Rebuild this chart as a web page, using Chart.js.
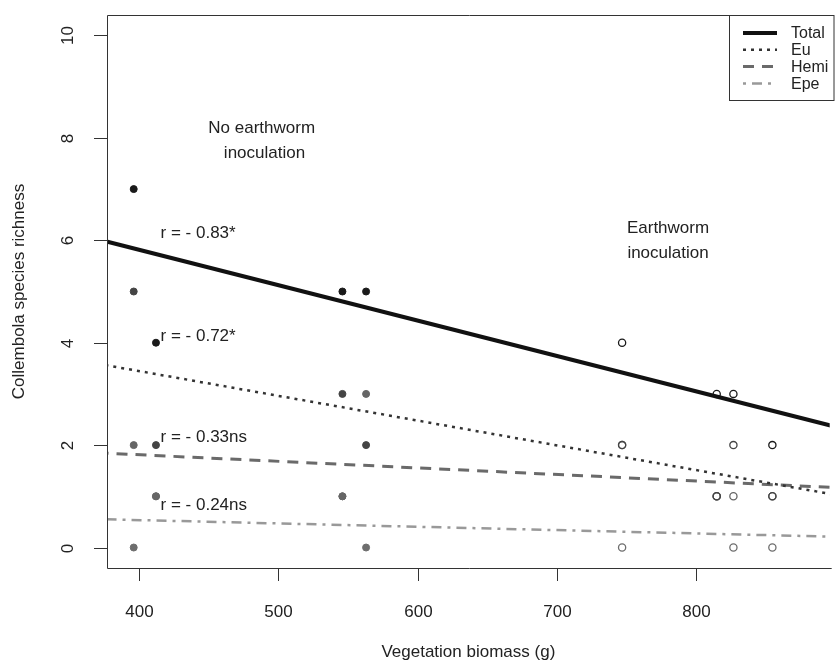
<!DOCTYPE html>
<html>
<head>
<meta charset="utf-8">
<script src="https://cdn.jsdelivr.net/npm/chart.js@4"></script>
<style>
  html, body { margin: 0; padding: 0; background: #fff; overflow: hidden; }
  #wrap { width: 835px; height: 670px; }
</style>
</head>
<body>
<div id="wrap"><canvas id="myChart" width="835" height="670"></canvas></div>
<script>
// biomass of the mesocosms (g)
const biomassNoWorm = [396, 412, 546, 563];
const biomassWorm = [747, 815, 827, 855];

// species richness per group
const totalNoWorm = [7, 4, 5, 5];
const euNoWorm = [5, 2, 3, 2];
const hemiNoWorm = [2, 1, 1, 3];
const epeNoWorm = [0, 1, 1, 0];
const totalWorm = [4, 3, 3, 2];
const euWorm = [2, 1, 2, 1];
const hemiWorm = [2, 1, 1, 1];
const epeWorm = [0, 1, 0, 0];

// fitted lines, read at both ends
const fitX = [370, 900];
const totalFit = [6.02, 2.36];
const euFit = [3.59, 1.03];
const hemiFit = [1.85, 1.17];
const epeFit = [0.555, 0.21];

const xTicks = [400, 500, 600, 700, 800];
const yTicks = [0, 2, 4, 6, 8, 10];
const seriesNames = ["Total", "Eu", "Hemi", "Epe"];

const FONT = "'Liberation Sans', Arial, Helvetica, sans-serif";
const INK = "#222";

const pts = (xs, ys) => xs.map((x, i) => ({ x: x, y: ys[i] }));

const lineStyles = [
  { color: "#111", width: 4, dash: [] },
  { color: "#333", width: 2.5, dash: [3, 5] },
  { color: "#6a6a6a", width: 3, dash: [11, 8] },
  { color: "#999", width: 2.5, dash: [3, 6, 10, 6] },
];
const pointColors = ["#1a1a1a", "#444", "#666", "#6e6e6e"];

const fits = [totalFit, euFit, hemiFit, epeFit];
const noWorm = [totalNoWorm, euNoWorm, hemiNoWorm, epeNoWorm];
const worm = [totalWorm, euWorm, hemiWorm, epeWorm];

const datasets = [];
fits.forEach((f, i) => {
  datasets.push({
    type: "line",
    label: seriesNames[i],
    data: pts(fitX, f),
    borderColor: lineStyles[i].color,
    borderWidth: lineStyles[i].width,
    borderDash: lineStyles[i].dash,
    pointRadius: 0,
    fill: false,
    clip: 0,
  });
});
noWorm.forEach((ys, i) => {
  datasets.push({
    type: "scatter",
    label: seriesNames[i] + " no worm",
    data: pts(biomassNoWorm, ys),
    backgroundColor: pointColors[i],
    borderColor: pointColors[i],
    pointRadius: 3.5,
    borderWidth: 1,
  });
});
worm.forEach((ys, i) => {
  datasets.push({
    type: "scatter",
    label: seriesNames[i] + " worm",
    data: pts(biomassWorm, ys),
    backgroundColor: "rgba(0,0,0,0)",
    borderColor: pointColors[i],
    pointRadius: 3.6,
    borderWidth: 1.3,
  });
});

const notes = [
  { text: "No earthworm", x: 488, y: 8.19, align: "center" },
  { text: "inoculation", x: 490, y: 7.69, align: "center" },
  { text: "Earthworm", x: 780, y: 6.24, align: "center" },
  { text: "inoculation", x: 780, y: 5.75, align: "center" },
  { text: "r = - 0.83*", x: 415.3, y: 6.14, align: "left" },
  { text: "r = - 0.72*", x: 415.3, y: 4.12, align: "left" },
  { text: "r = - 0.33ns", x: 415.3, y: 2.16, align: "left" },
  { text: "r = - 0.24ns", x: 415.3, y: 0.83, align: "left" },
];

const frame = {
  id: "frame",
  afterDraw(chart) {
    const c = chart.ctx;
    const a = chart.chartArea;
    const xs = chart.scales.x;
    const ys = chart.scales.y;
    c.save();
    c.strokeStyle = "#333";
    c.lineWidth = 1;
    c.setLineDash([]);
    // box (right side is off the page)
    c.beginPath();
    c.moveTo(a.right + 2, a.top + 0.5);
    c.lineTo(a.left + 0.5, a.top + 0.5);
    c.lineTo(a.left + 0.5, a.bottom + 0.5);
    c.lineTo(a.right + 2, a.bottom + 0.5);
    c.stroke();

    // ticks
    c.fillStyle = INK;
    c.font = "17px " + FONT;
    c.textAlign = "center";
    c.textBaseline = "middle";
    xTicks.forEach((t) => {
      const px = Math.round(xs.getPixelForValue(t)) + 0.5;
      c.beginPath();
      c.moveTo(px, a.bottom);
      c.lineTo(px, a.bottom + 13);
      c.stroke();
      c.fillText(String(t), px, 612);
    });
    yTicks.forEach((t) => {
      const py = Math.round(ys.getPixelForValue(t)) + 0.5;
      c.beginPath();
      c.moveTo(a.left, py);
      c.lineTo(a.left - 13, py);
      c.stroke();
      c.save();
      c.translate(68, py);
      c.rotate(-Math.PI / 2);
      c.fillText(String(t), 0, 0);
      c.restore();
    });

    // axis titles
    c.fillText("Vegetation biomass (g)", (a.left + a.right) / 2, 652);
    c.save();
    c.translate(19, (a.top + a.bottom) / 2);
    c.rotate(-Math.PI / 2);
    c.fillText("Collembola species richness", 0, 0);
    c.restore();

    // notes
    notes.forEach((n) => {
      c.textAlign = n.align;
      c.fillText(n.text, xs.getPixelForValue(n.x), ys.getPixelForValue(n.y));
    });

    // legend
    const lx = 729.5, ly = a.top + 0.5, lw = 834 - 729.5, lh = 85;
    c.fillStyle = "#fff";
    c.fillRect(lx, ly, lw, lh);
    c.strokeStyle = "#333";
    c.strokeRect(lx, ly, lw, lh);
    c.font = "16px " + FONT;
    c.textAlign = "left";
    chart.data.datasets.slice(0, 4).forEach((d, i) => {
      const y = 33 + i * 16.8;
      c.strokeStyle = d.borderColor;
      c.lineWidth = d.borderWidth;
      c.setLineDash(d.borderDash);
      c.beginPath();
      c.moveTo(743, y);
      c.lineTo(777, y);
      c.stroke();
      c.fillStyle = INK;
      c.fillText(d.label, 791, y + 1);
    });
    c.restore();
  },
};

const myChart = new Chart(document.getElementById("myChart"), {
  type: "scatter",
  data: { datasets: datasets },
  options: {
    responsive: false,
    animation: false,
    devicePixelRatio: 1,
    layout: { padding: { left: 107, top: 15, right: 0, bottom: 102 } },
    plugins: { legend: { display: false }, tooltip: { enabled: false } },
    scales: {
      x: { type: "linear", min: 376.8, max: 896.2, display: false },
      y: { type: "linear", min: -0.4, max: 10.4, display: false },
    },
  },
  plugins: [frame],
});
</script>
</body>
</html>
